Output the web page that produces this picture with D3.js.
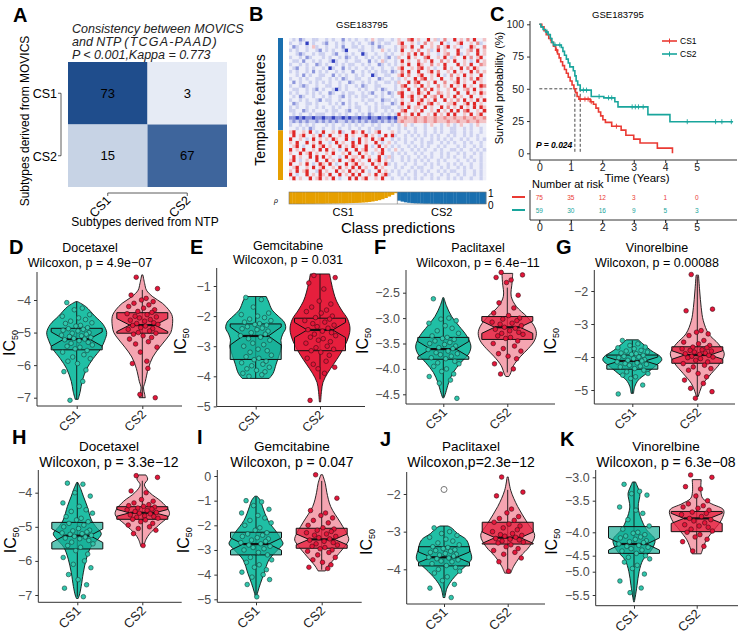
<!DOCTYPE html>
<html>
<head>
<meta charset="utf-8">
<script src="https://cdn.jsdelivr.net/npm/d3@7"></script>
<style>
  body { margin: 0; background: #fff; }
  svg { font-family: "Liberation Sans", Arial, sans-serif; }
</style>
</head>
<body>
<div id="chart"></div>
<script>
// ---------- A: confusion matrix ----------
const NTP_CLASSES = ["CS1", "CS2"];
const MOVICS_CLASSES = ["CS1", "CS2"];
const CONFUSION = [[73, 3], [15, 67]];

// ---------- B: NTP heatmap (coded cells) + correlation bars ----------
// B strong blue, m mid blue, b light blue, . white, r light red, p mid red, R strong red
const HEAT_ROWS = [
  ".b.mb..bb. .b.b..m.b. b..b.r.bb. .b.r..pR.r ..R.rb.p.. R.r.p.R..r",
  "b..b.B.b.. bm..b.b..b .b..bm.b.b b..rR..r.b .p.r..R.b. .rR..r.pb.",
  ".mb..b.rb. .b..b.m..b b.b..b.mb. ..b.pr.R.. R..r.p.rR. r.b..Rr..p",
  "b.b..b..bm .b.b..bB.. .bb..b..r. b.b.R..r.p ..rb.R.r.. .R..rp.R.r",
  "..bmb..b.b b..bm..b.b ..Bb..b..b .b..r.p.R. R.r..b.rp. .Rb.r..R.r",
  "b..b.mb... b.b..b.mb. b..b.b.b.b m.br..R.r. .pR..r.R.b r..R.p.rR.",
  ".bb.m..b.b ..bBb..b.. bb..m.b.rb ..b.R.r..p .r.R..p.r. R..r.b.R.r",
  "b..b.b..mb .b..b.b.bb ..b.b..mb. b.b.r.R..R r..p.r.R.. .R.r.R..pr",
  ".bm..b.b.. b.Bb..m.b. b..b.b..b. .b.rR..r.p R.r.b..R.r ..R.p.Rr..",
  "b.b..b.m.b .b..b.b..m ..b.b.b.bb .mb.p.R..R ..rR.p..r. R.r..R.p.r",
  "..b.m.b..b b..m.b.b.. b.b..Bb..b b..rR.p..r R..r.R.b.p .r.R.r..R.",
  "b..b.b..bb ..b.b.mb.. bb..b..mb. .b.b.r..R. pR.r..R..r .R.r.p.Rr.",
  ".m.b..b.b. b.b..b..mb ..b.b.b..b b.br..R.pR ..r.R..p.. rR.r..R.r.",
  "b..bmb..b. .bb..b.b.. b.mb..bb.. ..b.pR..r. R.r..p.r.R .r.R.r..Rp",
  ".bb..b.bm. b..bBb.b.. .b.b..b.mb ..b.r.R..R .p.R.r..r. R..rp.R.r.",
  "b.b..b.b.b ..mb..b.bb ..b.bm..b. mb.pR..r.R r.R..pr.r. .R..R.r.Rr",
  ".b.mb..b.. b.b..bm.b. b.bb..b.b. .b..R.rR.r .R.rp.R.r. R.r..R..r.",
  "b..b.b..bm .bb..b..b. ..b.bb..mb b.b.r..R.r R.r.R..R.r .p.R.r.R.R",
  ".mb..bb.b. ..b.b.m.b. b..b..b.b. .mb.R.r..R r.pR.r..rr R..rR.R.r.",
  "b.b..b..b. b..b.b..b. bb..b.b.bb b..br.R.rr .R.r..R.p. r.R.r.R.Rr",
  "bb..mb.b.. .b.bb..bm. .b..b.b..b .b..pR..r. R..r.R.r.R .R.pR..r.R",
  ".b.b..b.bb b..b.b.b.. b.b.mb..b. b.bR.r.R.R ..r.R.r.R. R..r.R.rR.",
  "mmBmBmmBmm BmmBmmBmBm mBmmBmmBmm BmBrrprrpr rprrprrprr prrprrprrp",
  "bmbmbmbbmb mbmbmbbmbm bmbmbmmbmb mbmrprrrpr rprrprrrpr rprrprrprr",
  "b..b.b.b.. .b.b..b.b. b.b..b.b.. .b.b.r.b.. .b.r..b.r. b.r..b.r..",
  "..b.b.mb.. b..b.b..b. .b..b.bb.. b..b.b..b. .b..b.b..b b..b.b..b.",
  "rR..r.R.b. R..r.Rb..R r.R.b.rR.. .r.b..b.b. .b..b.b..b b..b.b..b.",
  ".R.rR..r.R b.R..r.R.r ..rR.r.b.R .Rb..b.b.b .b.b.b..b. b..b.b.b..",
  "R..r.b.R.r .r.Rr..R.b .R.r.R.rR. .b.b.b..b. b..b.b.b.b ..b.b..b.b",
  "r.R..R.r.R ..b.R.r..R .R.r..R.b. r.b..b.b.. b.bb..b.b. b..b.b..b.",
  ".rR.b..R.r R.r..R.r.R r..R.b.R.r .b.b..b.b. b.b..b.b.. .b.b..b.b.",
  "R.r.R..r.R .R.r.b.R.. R.rR..r.R. b.r.b..b.b .b..b.b..b b.b..b.b.b",
  "r..R.rR.r. .r.R..r.R. .R.r.b.rR. .b.b.b..b. b..b..b.b. .b.b..b.b.",
  ".R.r..R.R. R.r..b.R.r r.R.r..R.b rb..b.b..b .b.b..b.b. b..b.b..b.",
  "rR.b.r..R. .R.r.R..rR .r..R.rR.r .b..b.b.b. b.b..b.b.. .b..b.b.b.",
  "R..r.R.b.R r.R.b..R.r R.r..R.r.R b.b..b..b. .b.b.b..b. b.b..b..b.",
  ".rR..r.R.r R..r.R.r.R .R.r..R.r. ..b.b..b.b b..b..b.b. .b.b.b..b.",
  "r.R.rR..bR .r..R.r.R. r.R.b..R.r .b.b..b.b. b.b..b.b.b b..b..b.b.",
  "R.b..R.r.R r.R..R.r.R .R..r.R.rR b..b.b..b. .b.b..b.b. .b.b..b.b.",
  ".R.r..R.rR .r.R.b..R. R.rR..r.R. .b..b.b.b. b..b.b..b. b.b..b..b."
];
const FEATURE_GROUPS = [["CS2", 26], ["CS1", 14]];   // rows per template group
const SAMPLE_GROUPS = [["CS1", 33], ["CS2", 27]];    // columns per predicted class
const RHO_CS1 = [1, 1, 1, 1, 1, 0.99, 0.99, 0.99, 0.98, 0.98, 0.98, 0.97, 0.97, 0.96, 0.96, 0.95, 0.95,
  0.94, 0.93, 0.92, 0.91, 0.9, 0.88, 0.86, 0.83, 0.79, 0.74, 0.68, 0.6, 0.5, 0.38, 0.24, 0.1];
const RHO_CS2 = [0.72, 0.8, 0.86, 0.9, 0.93, 0.95, 0.96, 0.97, 0.98, 0.98, 0.99, 0.99, 0.99, 1, 1, 1, 1,
  1, 1, 1, 1, 1, 1, 1, 1, 1, 1];

// ---------- C: Kaplan-Meier ----------
const KM_CS1 = [[0, 100], [0.08, 98], [0.15, 95], [0.22, 92], [0.3, 89], [0.38, 86], [0.45, 83], [0.52, 80],
  [0.58, 77], [0.63, 74], [0.68, 71], [0.74, 68], [0.8, 65], [0.86, 62], [0.92, 59], [0.98, 56], [1.04, 53],
  [1.1, 50], [1.15, 47], [1.2, 44], [1.26, 42], [1.62, 40], [1.72, 38], [1.8, 35], [1.88, 32], [1.95, 29],
  [2.02, 26], [2.1, 24], [2.3, 21], [2.6, 18], [2.75, 14], [3.0, 11], [3.2, 8], [3.75, 4], [4.23, 0]];
const KM_CS2 = [[0, 100], [0.05, 98], [0.12, 96], [0.2, 94], [0.28, 92], [0.35, 89], [0.4, 86], [0.45, 84],
  [0.7, 82], [0.75, 79], [0.8, 76], [0.86, 73], [0.92, 70], [0.97, 67], [1.08, 64], [1.13, 60], [1.17, 56],
  [1.22, 53], [1.3, 49], [1.65, 44], [2.05, 43], [2.4, 40], [2.5, 36], [3.45, 30], [4.15, 24.5], [6.15, 24.5]];
const CENSOR_CS1 = [0.35, 0.55, 1.3, 1.45, 1.55, 1.65, 2.45];
const CENSOR_CS2 = [0.25, 0.5, 0.65, 1.4, 1.5, 1.9, 2.2, 2.3, 2.95, 3.05, 3.15, 3.3, 4.7, 5.6, 5.8, 6.1];
const MEDIANS = [1.13, 1.3];
const RISK_TIMES = [0, 1, 2, 3, 4, 5];
const RISK_CS1 = [75, 35, 12, 3, 1, 0];
const RISK_CS2 = [59, 30, 16, 9, 5, 3];

// ---------- D-K: drug sensitivity violins ----------
const GROUPS = ["CS1", "CS2"];
const DRUGS = ["Docetaxel", "Gemcitabine", "Paclitaxel", "Vinorelbine", "Docetaxel", "Gemcitabine", "Paclitaxel", "Vinorelbine"];
const P_LABELS = ["Wilcoxon, p = 4.9e\u221207", "Wilcoxon, p = 0.031", "Wilcoxon, p = 6.4e\u221211", "Wilcoxon, p = 0.00088",
  "Wilcoxon, p = 3.3e\u221212", "Wilcoxon, p = 0.047", "Wilcoxon,p=2.3e\u221212", "Wilcoxon, p = 6.3e\u221208"];

// violin outlines: [value, relative width]
const D_VIO1 = [[-4.05, 0.03], [-4.2, 0.3], [-4.5, 0.61], [-4.75, 0.88], [-5.0, 1], [-5.25, 0.93], [-5.5, 0.8], [-5.8, 0.55], [-6.1, 0.34], [-6.5, 0.18], [-6.8, 0.12], [-7.05, 0.05]];
const D_VIO2 = [[-3.23, 0.02], [-3.5, 0.08], [-3.7, 0.14], [-3.9, 0.35], [-4.1, 0.67], [-4.3, 0.88], [-4.5, 1], [-4.8, 1], [-5.0, 0.95], [-5.2, 0.8], [-5.45, 0.58], [-5.75, 0.35], [-6.1, 0.2], [-6.5, 0.1], [-6.7, 0.04], [-6.9, 0.08], [-7.0, 0.1]];
const E_VIO1 = [[-1.35, 0.35], [-1.5, 0.42], [-1.8, 0.55], [-2.0, 0.75], [-2.2, 0.95], [-2.4, 1], [-2.6, 0.9], [-2.8, 0.84], [-3.0, 0.86], [-3.3, 0.78], [-3.6, 0.68], [-3.9, 0.58], [-4.07, 0.45]];
const E_VIO2 = [[-0.6, 0.32], [-0.9, 0.38], [-1.2, 0.45], [-1.5, 0.55], [-1.8, 0.72], [-2.1, 0.92], [-2.4, 1], [-2.7, 0.95], [-3.0, 0.82], [-3.3, 0.65], [-3.6, 0.45], [-3.9, 0.25], [-4.2, 0.1], [-4.5, 0.05], [-4.85, 0.02]];
const F_VIO1 = [[-2.6, 0.02], [-2.75, 0.1], [-2.97, 0.28], [-3.16, 0.53], [-3.35, 0.78], [-3.55, 0.92], [-3.7, 0.85], [-3.88, 0.58], [-4.07, 0.33], [-4.27, 0.18], [-4.47, 0.08], [-4.57, 0.02]];
const F_VIO2 = [[-2.12, 0.18], [-2.3, 0.16], [-2.57, 0.13], [-2.77, 0.3], [-2.97, 0.65], [-3.16, 0.9], [-3.3, 0.97], [-3.45, 0.9], [-3.6, 0.7], [-3.75, 0.45], [-3.94, 0.2], [-4.1, 0.1], [-4.15, 0.05]];
const G_VIO1 = [[-3.48, 0.2], [-3.6, 0.35], [-3.8, 0.62], [-4.0, 0.95], [-4.1, 0.98], [-4.25, 0.8], [-4.5, 0.47], [-4.7, 0.2], [-4.9, 0.08], [-5.1, 0.04]];
const G_VIO2 = [[-1.52, 0.04], [-2.0, 0.08], [-2.5, 0.13], [-2.9, 0.2], [-3.3, 0.38], [-3.6, 0.7], [-3.9, 0.9], [-4.2, 0.75], [-4.5, 0.47], [-4.8, 0.2], [-5.05, 0.08], [-5.2, 0.03]];
const H_VIO1 = [[-3.7, 0.02], [-3.9, 0.12], [-4.1, 0.2], [-4.4, 0.33], [-4.8, 0.47], [-5.0, 0.62], [-5.2, 0.8], [-5.35, 0.7], [-5.6, 0.45], [-5.95, 0.3], [-6.35, 0.2], [-6.75, 0.13], [-7.0, 0.07], [-7.1, 0.03]];
const H_VIO2 = [[-3.48, 0.12], [-3.6, 0.18], [-3.77, 0.07], [-4.0, 0.25], [-4.25, 0.62], [-4.5, 0.87], [-4.65, 0.9], [-4.95, 0.55], [-5.2, 0.25], [-5.38, 0.12], [-5.57, 0.05]];
const I_VIO1 = [[-0.82, 0.04], [-1.0, 0.15], [-1.25, 0.22], [-1.8, 0.4], [-2.3, 0.7], [-2.6, 0.85], [-2.75, 0.9], [-3.0, 0.72], [-3.4, 0.43], [-3.95, 0.27], [-4.35, 0.15], [-4.7, 0.06], [-4.9, 0.02]];
const I_VIO2 = [[0.05, 0.03], [-0.3, 0.12], [-0.66, 0.17], [-1.24, 0.3], [-1.9, 0.63], [-2.45, 0.88], [-2.6, 0.9], [-2.85, 0.77], [-3.25, 0.5], [-3.65, 0.22], [-3.85, 0.12]];
const J_VIO1 = [[-2.85, 0.13], [-2.9, 0.25], [-3.05, 0.45], [-3.22, 0.75], [-3.5, 0.87], [-3.72, 0.92], [-3.85, 0.8], [-4.0, 0.6], [-4.27, 0.28], [-4.5, 0.1], [-4.75, 0.03]];
const J_VIO2 = [[-1.55, 0.02], [-1.9, 0.1], [-2.33, 0.33], [-2.77, 0.66], [-3.1, 0.9], [-3.4, 0.72], [-3.66, 0.42], [-3.92, 0.2], [-4.1, 0.1]];
const K_VIO1 = [[-3.1, 0.05], [-3.25, 0.15], [-3.35, 0.2], [-3.6, 0.14], [-3.8, 0.25], [-3.96, 0.42], [-4.16, 0.7], [-4.38, 0.58], [-4.63, 0.3], [-5.0, 0.17], [-5.3, 0.1], [-5.55, 0.04], [-5.65, 0.01]];
const K_VIO2 = [[-3.05, 0.15], [-3.3, 0.14], [-3.45, 0.2], [-3.55, 0.5], [-3.65, 0.9], [-3.8, 0.83], [-3.96, 0.58], [-4.16, 0.33], [-4.38, 0.19], [-4.46, 0.15]];

// boxes: [lower whisker, q1, median, q3, upper whisker, notch half-size]
const D_BOX1 = [-7.05, -5.53, -5.2, -4.87, -4.05, 0.22];
const D_BOX2 = [-7.0, -5.02, -4.77, -4.39, -3.69, 0.2];
const E_BOX1 = [-4.07, -3.44, -2.66, -2.26, -1.35, 0.3];
const E_BOX2 = [-4.1, -3.15, -2.46, -2.07, -0.6, 0.25];
const F_BOX1 = [-4.55, -3.81, -3.61, -3.38, -2.62, 0.15];
const F_BOX2 = [-4.07, -3.42, -3.18, -2.97, -2.4, 0.12];
const G_BOX1 = [-5.1, -4.37, -4.12, -3.94, -3.5, 0.12];
const G_BOX2 = [-5.2, -4.19, -3.94, -3.69, -1.55, 0.13];
const H_BOX1 = [-7.05, -5.65, -5.26, -4.87, -3.7, 0.2];
const H_BOX2 = [-5.5, -4.78, -4.59, -4.41, -3.65, 0.1];
const I_BOX1 = [-4.85, -3.2, -2.76, -2.28, -0.85, 0.25];
const I_BOX2 = [-3.8, -2.93, -2.57, -2.12, -0.2, 0.22];
const J_BOX1 = [-4.7, -3.91, -3.68, -3.4, -2.85, 0.14];
const J_BOX2 = [-4.07, -3.33, -3.16, -2.75, -1.89, 0.15];
const K_BOX1 = [-5.6, -4.45, -4.25, -3.91, -3.1, 0.13];
const K_BOX2 = [-4.45, -3.99, -3.78, -3.67, -3.35, 0.08];
const J_OUTLIER1 = [-1.88];

// sample points (IC50)
const D_CS1 = [-4.08, -4.25, -4.3, -4.45, -4.5, -4.55, -4.6, -4.65, -4.7, -4.72, -4.78, -4.8, -4.85, -4.88, -4.9, -4.93, -4.95, -5.0, -5.02, -5.05, -5.08, -5.1, -5.12, -5.15, -5.18, -5.2, -5.22, -5.25, -5.3, -5.33, -5.38, -5.42, -5.45, -5.5, -5.55, -5.6, -5.68, -5.75, -5.8, -5.88, -5.95, -6.15, -6.2, -6.5, -7.08];
const D_CS2 = [-3.3, -3.65, -3.85, -3.95, -4.0, -4.05, -4.1, -4.15, -4.2, -4.25, -4.3, -4.35, -4.38, -4.42, -4.45, -4.5, -4.52, -4.55, -4.6, -4.62, -4.65, -4.7, -4.72, -4.75, -4.78, -4.8, -4.85, -4.88, -4.9, -4.95, -5.0, -5.02, -5.05, -5.1, -5.15, -5.2, -5.28, -5.35, -5.45, -5.6, -5.88, -5.95, -6.1, -6.9, -7.0];
const E_CS1 = [-1.38, -1.45, -1.7, -1.9, -1.95, -2.0, -2.05, -2.1, -2.15, -2.2, -2.25, -2.28, -2.3, -2.35, -2.4, -2.42, -2.45, -2.5, -2.55, -2.6, -2.65, -2.7, -2.75, -2.8, -2.9, -2.95, -3.0, -3.1, -3.15, -3.2, -3.3, -3.35, -3.4, -3.45, -3.5, -3.55, -3.6, -3.65, -3.7, -3.75, -3.8, -3.85, -3.9, -3.95, -4.0];
const E_CS2 = [-0.65, -0.72, -0.9, -1.1, -1.5, -1.6, -1.7, -1.8, -1.85, -1.9, -2.0, -2.05, -2.1, -2.15, -2.2, -2.25, -2.3, -2.35, -2.4, -2.45, -2.5, -2.55, -2.6, -2.65, -2.7, -2.75, -2.8, -2.85, -2.9, -3.0, -3.05, -3.1, -3.15, -3.2, -3.3, -3.4, -3.5, -3.6, -3.7, -3.75, -3.9, -4.8];
const F_CS1 = [-2.62, -3.0, -3.02, -3.05, -3.1, -3.15, -3.2, -3.25, -3.3, -3.35, -3.38, -3.4, -3.42, -3.45, -3.48, -3.5, -3.52, -3.55, -3.58, -3.6, -3.62, -3.65, -3.68, -3.7, -3.72, -3.75, -3.78, -3.8, -3.85, -3.88, -3.9, -3.95, -4.0, -4.05, -4.1, -4.15, -4.22, -4.28, -4.58];
const F_CS2 = [-2.1, -2.15, -2.2, -2.25, -2.3, -2.55, -2.7, -2.8, -2.9, -2.95, -3.0, -3.02, -3.05, -3.08, -3.1, -3.12, -3.15, -3.18, -3.2, -3.22, -3.25, -3.28, -3.3, -3.32, -3.35, -3.38, -3.4, -3.45, -3.5, -3.55, -3.6, -3.65, -3.7, -3.75, -3.8, -3.9, -4.0, -4.1];
const G_CS1 = [-3.5, -3.6, -3.65, -3.7, -3.72, -3.75, -3.8, -3.82, -3.85, -3.88, -3.9, -3.92, -3.95, -3.98, -4.0, -4.02, -4.05, -4.08, -4.1, -4.12, -4.15, -4.18, -4.2, -4.22, -4.25, -4.28, -4.3, -4.35, -4.4, -4.45, -4.5, -4.55, -4.6, -4.65, -4.85, -5.12];
const G_CS2 = [-1.5, -2.55, -2.6, -3.2, -3.25, -3.3, -3.35, -3.5, -3.55, -3.6, -3.65, -3.7, -3.72, -3.75, -3.78, -3.8, -3.82, -3.85, -3.88, -3.9, -3.92, -3.95, -3.98, -4.0, -4.02, -4.05, -4.1, -4.15, -4.2, -4.25, -4.3, -4.35, -4.4, -4.5, -4.6, -4.7, -4.8, -4.95, -5.05, -5.25];
const H_CS1 = [-3.72, -3.75, -4.0, -4.1, -4.3, -4.4, -4.5, -4.55, -4.6, -4.7, -4.75, -4.8, -4.85, -4.9, -4.95, -5.0, -5.05, -5.1, -5.12, -5.15, -5.18, -5.2, -5.22, -5.25, -5.28, -5.3, -5.33, -5.35, -5.4, -5.45, -5.5, -5.55, -5.6, -5.7, -5.8, -5.9, -6.0, -6.1, -6.2, -6.4, -6.55, -6.7, -6.8, -7.05];
const H_CS2 = [-3.5, -3.55, -3.95, -4.0, -4.2, -4.25, -4.3, -4.35, -4.38, -4.4, -4.42, -4.45, -4.48, -4.5, -4.52, -4.55, -4.58, -4.6, -4.62, -4.65, -4.68, -4.7, -4.72, -4.75, -4.78, -4.8, -4.85, -4.9, -4.95, -5.0, -5.05, -5.1, -5.2, -5.55];
const I_CS1 = [-1.0, -1.05, -1.2, -1.35, -1.5, -1.6, -1.7, -1.8, -1.9, -2.0, -2.1, -2.2, -2.3, -2.35, -2.4, -2.45, -2.5, -2.55, -2.6, -2.65, -2.7, -2.75, -2.8, -2.85, -2.9, -2.95, -3.0, -3.1, -3.2, -3.3, -3.4, -3.5, -3.6, -3.7, -3.8, -3.9, -4.0, -4.1, -4.2, -4.4, -4.9];
const I_CS2 = [0.05, -0.9, -1.4, -1.5, -1.6, -1.7, -1.8, -1.9, -2.0, -2.1, -2.15, -2.2, -2.25, -2.3, -2.35, -2.4, -2.45, -2.5, -2.55, -2.6, -2.65, -2.7, -2.75, -2.8, -2.85, -2.9, -2.95, -3.0, -3.05, -3.1, -3.2, -3.3, -3.4, -3.5, -3.6, -3.7, -3.75];
const J_CS1 = [-2.9, -3.0, -3.05, -3.1, -3.15, -3.2, -3.25, -3.3, -3.35, -3.4, -3.42, -3.45, -3.48, -3.5, -3.52, -3.55, -3.58, -3.6, -3.62, -3.65, -3.68, -3.7, -3.72, -3.75, -3.78, -3.8, -3.85, -3.9, -3.95, -4.0, -4.05, -4.1, -4.2, -4.3, -4.4, -4.5, -4.75];
const J_CS2 = [-1.55, -1.95, -2.05, -2.4, -2.5, -2.6, -2.65, -2.7, -2.75, -2.8, -2.85, -2.9, -2.95, -3.0, -3.05, -3.08, -3.1, -3.12, -3.15, -3.18, -3.2, -3.22, -3.25, -3.28, -3.3, -3.35, -3.4, -3.45, -3.5, -3.55, -3.6, -3.7, -3.8, -4.05];
const K_CS1 = [-3.15, -3.3, -3.35, -3.38, -3.6, -3.65, -3.7, -3.8, -3.9, -3.95, -4.0, -4.02, -4.05, -4.08, -4.1, -4.12, -4.15, -4.18, -4.2, -4.22, -4.25, -4.28, -4.3, -4.32, -4.35, -4.38, -4.4, -4.45, -4.5, -4.55, -4.6, -4.7, -4.8, -4.9, -5.05, -5.2, -5.35, -5.45];
const K_CS2 = [-2.95, -3.0, -3.2, -3.25, -3.4, -3.5, -3.55, -3.58, -3.6, -3.62, -3.65, -3.68, -3.7, -3.72, -3.75, -3.78, -3.8, -3.82, -3.85, -3.88, -3.9, -3.92, -3.95, -3.98, -4.0, -4.05, -4.1, -4.15, -4.2, -4.3, -4.4];

// horizontal jitter (fraction of jitter width), reused cyclically
const JITTER = [-0.62, 0.35, -0.15, 0.81, -0.9, 0.12, 0.55, -0.38, 0.95, -0.7, 0.24, -0.05, 0.68, -0.52, 0.41, -0.85,
  0.08, 0.77, -0.28, 0.6, -0.95, 0.3, -0.45, 0.88, -0.18, 0.5, -0.75, 0.15, 0.72, -0.35, 0.98, -0.6, 0.2, -0.1,
  0.65, -0.88, 0.45, -0.25, 0.85, -0.55, 0.05, 0.58, -0.8, 0.38, -0.42, 0.92, -0.12, 0.28];

const TEAL = "#20bfa5", RED = "#e61f3d", KM_RED = "#ea3a33", KM_TEAL = "#19a59c";
const BLUE_BAR = "#1a6faf", ORANGE_BAR = "#e69f00";

const width = 742, height = 634;
const svg = d3.select("#chart").append("svg")
  .attr("width", width).attr("height", height)
  .attr("viewBox", [0, 0, width, height]);

// panel letters
const LETTERS = [["A", 13, 22], ["B", 249, 21], ["C", 490, 21], ["D", 9, 254], ["E", 190, 254], ["F", 374, 254],
  ["G", 556, 254], ["H", 12, 444], ["I", 197, 444], ["J", 380, 446], ["K", 560, 446]];
svg.selectAll(".letter").data(LETTERS).join("text")
  .attr("x", d => d[1]).attr("y", d => d[2])
  .attr("font-size", 20).attr("font-weight", "bold").text(d => d[0]);

// ================= Panel A =================
{
  const g = svg.append("g");
  const x = d3.scaleBand().domain(NTP_CLASSES).range([68, 227]);
  const y = d3.scaleBand().domain(MOVICS_CLASSES).range([62, 187]);
  const color = d3.scaleLinear().domain([0, 1]).range(["#eef2fa", "#174687"]);
  const cells = [];
  MOVICS_CLASSES.forEach((r, i) => NTP_CLASSES.forEach((c, j) => {
    cells.push({ r, c, n: CONFUSION[i][j], p: CONFUSION[i][j] / d3.sum(CONFUSION[i]) });
  }));
  g.selectAll("rect").data(cells).join("rect")
    .attr("x", d => x(d.c)).attr("y", d => y(d.r))
    .attr("width", x.bandwidth()).attr("height", y.bandwidth())
    .attr("fill", d => color(d.p));
  g.selectAll(".cnt").data(cells).join("text")
    .attr("x", d => x(d.c) + x.bandwidth() / 2).attr("y", d => y(d.r) + y.bandwidth() / 2 + 4.5)
    .attr("text-anchor", "middle").attr("font-size", 13).text(d => d.n);

  // title
  const t = g.append("text").attr("font-size", 12.5).attr("font-style", "italic").attr("fill", "#222");
  t.append("tspan").attr("x", 72).attr("y", 33).text("Consistency between MOVICS");
  const l2 = t.append("tspan").attr("x", 72).attr("y", 46).text("and NTP ");
  l2.append("tspan").attr("letter-spacing", 1.2).text("(TCGA-PAAD)");
  t.append("tspan").attr("x", 72).attr("y", 59).text("P < 0.001,Kappa = 0.773");

  // y bracket axis
  const yc = d => y(d) + y.bandwidth() / 2;
  g.append("path").attr("fill", "none").attr("stroke", "#333").attr("stroke-width", 0.8)
    .attr("d", `M58,${yc("CS1")}H61V${yc("CS2")}H58`);
  g.selectAll(".yl").data(MOVICS_CLASSES).join("text")
    .attr("x", 57).attr("y", d => yc(d) + 5).attr("text-anchor", "end")
    .attr("font-size", 12.5).text(d => d);
  g.append("text").attr("transform", "translate(29,121) rotate(-90)")
    .attr("text-anchor", "middle").attr("font-size", 12).text("Subtypes derived from MOVICS");

  // x bracket axis
  const xc = d => x(d) + x.bandwidth() / 2;
  g.append("path").attr("fill", "none").attr("stroke", "#333").attr("stroke-width", 0.8)
    .attr("d", `M${xc("CS1")},196V193H${xc("CS2")}V196`);
  g.selectAll(".xl").data(NTP_CLASSES).join("text")
    .attr("transform", d => `translate(${xc(d) + 4},${201}) rotate(-45)`)
    .attr("text-anchor", "end").attr("font-size", 12.5).text(d => d);
  g.append("text").attr("x", 145).attr("y", 226).attr("text-anchor", "middle")
    .attr("font-size", 12).text("Subtypes derived from NTP");
}

// ================= Panel B =================
{
  const g = svg.append("g");
  const nCols = d3.sum(SAMPLE_GROUPS, d => d[1]);
  const nRows = d3.sum(FEATURE_GROUPS, d => d[1]);
  const x = d3.scaleBand().domain(d3.range(nCols)).range([289, 486]);
  const y = d3.scaleBand().domain(d3.range(nRows)).range([38, 180]);
  const heatColor = d3.scaleOrdinal()
    .domain(["B", "m", "b", ".", "r", "p", "R"])
    .range(["#3240c0", "#8e97dc", "#cdd1ef", "#eeeff9", "#f3c3c6", "#ec8a8c", "#e02828"]);
  const cells = [];
  HEAT_ROWS.forEach((row, i) => {
    const s = row.replace(/ /g, "");
    for (let j = 0; j < nCols; j++) cells.push({ i, j, v: s[j] || "." });
  });
  g.selectAll("rect.cell").data(cells).join("rect").attr("class", "cell")
    .attr("x", d => x(d.j)).attr("y", d => y(d.i))
    .attr("width", x.bandwidth() + 0.3).attr("height", y.bandwidth() + 0.3)
    .attr("fill", d => heatColor(d.v));

  // template feature bar
  let r0 = 0;
  FEATURE_GROUPS.forEach(([grp, n]) => {
    g.append("rect").attr("x", 278).attr("width", 5)
      .attr("y", y(r0)).attr("height", y.step() * n)
      .attr("fill", grp === "CS2" ? BLUE_BAR : ORANGE_BAR);
    r0 += n;
  });
  g.append("text").attr("transform", "translate(265,110) rotate(-90)")
    .attr("text-anchor", "middle").attr("font-size", 14).text("Template features");
  g.append("text").attr("x", 362).attr("y", 28).attr("text-anchor", "middle")
    .attr("font-size", 9.5).text("GSE183795");

  // correlation bars
  const rhoY = d3.scaleLinear().domain([0, 1]).range([0, 12]);
  const rho = RHO_CS1.map((v, j) => ({ j, v, c: ORANGE_BAR }))
    .concat(RHO_CS2.map((v, j) => ({ j: j + RHO_CS1.length, v, c: BLUE_BAR })));
  g.selectAll("rect.rho").data(rho).join("rect").attr("class", "rho")
    .attr("x", d => x(d.j)).attr("y", 192)
    .attr("width", x.bandwidth() + 0.3).attr("height", d => rhoY(d.v))
    .attr("fill", d => d.c);
  g.append("rect").attr("x", 289).attr("y", 192).attr("width", 197).attr("height", 12)
    .attr("fill", "none").attr("stroke", "#777").attr("stroke-width", 0.6);
  g.append("line").attr("x1", x(RHO_CS1.length)).attr("x2", x(RHO_CS1.length))
    .attr("y1", 192).attr("y2", 204).attr("stroke", "#777").attr("stroke-width", 0.6);
  g.append("text").attr("x", 488).attr("y", 197).attr("font-size", 10).text("1");
  g.append("text").attr("x", 488).attr("y", 209).attr("font-size", 10).text("0");
  g.append("text").attr("x", 274).attr("y", 203).attr("font-size", 7).attr("font-style", "italic").text("\u03c1");
  let c0 = 0;
  SAMPLE_GROUPS.forEach(([grp, n]) => {
    g.append("text").attr("x", x(c0) + x.step() * n / 2).attr("y", 216)
      .attr("text-anchor", "middle").attr("font-size", 11).text(grp);
    c0 += n;
  });
  g.append("text").attr("x", 398).attr("y", 233).attr("text-anchor", "middle")
    .attr("font-size", 15).text("Class predictions");
}

// ================= Panel C =================
{
  const g = svg.append("g");
  const x = d3.scaleLinear().domain([0, 5]).range([539.3, 696.7]);
  const y = d3.scaleLinear().domain([0, 100]).range([153.3, 24.3]);
  const axisColor = "#333";

  g.append("text").attr("x", 618).attr("y", 18).attr("text-anchor", "middle")
    .attr("font-size", 9.5).text("GSE183795");

  // axes
  const yAx = g.append("g").attr("transform", "translate(530,0)")
    .call(d3.axisLeft(y).tickValues([0, 25, 50, 75, 100]).tickSize(3).tickFormat(d3.format("d")));
  const xAx = g.append("g").attr("transform", "translate(0,160)")
    .call(d3.axisBottom(x).tickValues(RISK_TIMES).tickSize(3).tickPadding(1).tickFormat(d3.format("d")));
  [yAx, xAx].forEach(a => {
    a.select(".domain").remove();
    a.selectAll("text").attr("font-size", 10.5).attr("fill", "#222").attr("font-family", null);
    a.selectAll("line").attr("stroke", axisColor);
  });
  g.append("line").attr("x1", 530).attr("x2", 530).attr("y1", 21).attr("y2", 160).attr("stroke", axisColor);
  g.append("line").attr("x1", 530).attr("x2", 737).attr("y1", 160).attr("y2", 160).attr("stroke", axisColor);
  g.append("text").attr("transform", "translate(503,88) rotate(-90)").attr("text-anchor", "middle")
    .attr("font-size", 11).text("Survival probability (%)");
  g.append("text").attr("x", 637).attr("y", 182).attr("text-anchor", "middle")
    .attr("font-size", 11.5).text("Time (Years)");

  // median lines
  const dash = "3,2";
  g.append("line").attr("x1", x(0)).attr("x2", x(MEDIANS[1])).attr("y1", y(50)).attr("y2", y(50))
    .attr("stroke", "#333").attr("stroke-dasharray", dash).attr("stroke-width", 0.9);
  MEDIANS.forEach(m => g.append("line").attr("x1", x(m)).attr("x2", x(m)).attr("y1", y(50)).attr("y2", y(0))
    .attr("stroke", "#333").attr("stroke-dasharray", dash).attr("stroke-width", 0.9));

  const line = d3.line().x(d => x(d[0])).y(d => y(d[1])).curve(d3.curveStepAfter);
  const survAt = (km, t) => { let s = 100; km.forEach(d => { if (d[0] <= t) s = d[1]; }); return s; };
  [[KM_CS1, CENSOR_CS1, KM_RED], [KM_CS2, CENSOR_CS2, KM_TEAL]].forEach(([km, cens, col]) => {
    g.append("path").attr("d", line(km)).attr("fill", "none").attr("stroke", col).attr("stroke-width", 1.6);
    g.selectAll(null).data(cens).join("path")
      .attr("d", t => `M${x(t)},${y(survAt(km, t)) - 2.5}v5M${x(t) - 1.8},${y(survAt(km, t))}h3.6`)
      .attr("stroke", col).attr("stroke-width", 0.9);
  });

  g.append("text").attr("x", 536).attr("y", 148).attr("font-size", 8.5)
    .attr("font-weight", "bold").attr("font-style", "italic").text("P = 0.024");

  // legend
  [["CS1", KM_RED, 41], ["CS2", KM_TEAL, 54]].forEach(([lab, col, ly]) => {
    g.append("line").attr("x1", 662).attr("x2", 677).attr("y1", ly).attr("y2", ly)
      .attr("stroke", col).attr("stroke-width", 1.6);
    g.append("path").attr("d", `M669.5,${ly - 2.5}v5`).attr("stroke", col);
    g.append("text").attr("x", 680).attr("y", ly + 3).attr("font-size", 8.5).text(lab);
  });

  // risk table
  g.append("text").attr("x", 532).attr("y", 188).attr("font-size", 11).text("Number at risk");
  g.append("line").attr("x1", 530).attr("x2", 530).attr("y1", 190).attr("y2", 220).attr("stroke", axisColor);
  g.append("line").attr("x1", 530).attr("x2", 737).attr("y1", 220).attr("y2", 220).attr("stroke", axisColor);
  const rAx = g.append("g").attr("transform", "translate(0,220)")
    .call(d3.axisBottom(x).tickValues(RISK_TIMES).tickSize(3).tickPadding(1).tickFormat(d3.format("d")));
  rAx.select(".domain").remove();
  rAx.selectAll("text").attr("font-size", 10.5).attr("fill", "#222").attr("font-family", null);
  [[RISK_CS1, KM_RED, 199.5], [RISK_CS2, KM_TEAL, 212.5]].forEach(([vals, col, ry]) => {
    g.append("line").attr("x1", 512).attr("x2", 525).attr("y1", ry - 2.5).attr("y2", ry - 2.5)
      .attr("stroke", col).attr("stroke-width", 2);
    g.selectAll(null).data(vals).join("text")
      .attr("x", (d, i) => x(RISK_TIMES[i])).attr("y", ry)
      .attr("text-anchor", "middle").attr("font-size", 6.5).attr("fill", col).text(d => d);
  });
}

// ================= Panels D-K =================
const PANELS = [
  { cs1: D_CS1, cs2: D_CS2, v1: D_VIO1, v2: D_VIO2, b1: D_BOX1, b2: D_BOX2,
    left: 37, right: 182, top: 272, bottom: 406, dom: [-4, -7], rng: [300, 397.7], ticks: [-4, -5, -6, -7], fmt: "d",
    cx: [76.7, 142.3], tx: 90, ty: [252, 267], labX: 15, row: 1 },
  { cs1: E_CS1, cs2: E_CS2, v1: E_VIO1, v2: E_VIO2, b1: E_BOX1, b2: E_BOX2,
    left: 216.7, right: 365, top: 268, bottom: 406.5, dom: [-1, -5], rng: [286, 406.4], ticks: [-1, -2, -3, -4, -5], fmt: "d",
    cx: [255.7, 320], tx: 288, ty: [250, 264], labX: 186, row: 1, solid2: true },
  { cs1: F_CS1, cs2: F_CS2, v1: F_VIO1, v2: F_VIO2, b1: F_BOX1, b2: F_BOX2,
    left: 406, right: 555, top: 270, bottom: 404, dom: [-2.5, -4.5], rng: [292.7, 394.3], ticks: [-2.5, -3, -3.5, -4, -4.5], fmt: ".1f",
    cx: [443.3, 507.3], tx: 478, ty: [252, 267], labX: 368, row: 1 },
  { cs1: G_CS1, cs2: G_CS2, v1: G_VIO1, v2: G_VIO2, b1: G_BOX1, b2: G_BOX2,
    left: 594.3, right: 735, top: 270, bottom: 404, dom: [-2, -5], rng: [291, 390], ticks: [-2, -3, -4, -5], fmt: "d",
    cx: [632.3, 697.3], tx: 657, ty: [252, 267], labX: 556, row: 1 },
  { cs1: H_CS1, cs2: H_CS2, v1: H_VIO1, v2: H_VIO2, b1: H_BOX1, b2: H_BOX2,
    left: 38.3, right: 181.7, top: 470, bottom: 602.3, dom: [-4, -7], rng: [492.7, 595], ticks: [-4, -5, -6, -7], fmt: "d",
    cx: [77.3, 142.3], tx: 109, ty: [451, 467], labX: 16, row: 2 },
  { cs1: I_CS1, cs2: I_CS2, v1: I_VIO1, v2: I_VIO2, b1: I_BOX1, b2: I_BOX2,
    left: 217.3, right: 361.7, top: 470, bottom: 602.3, dom: [0, -5], rng: [476, 599.3], ticks: [0, -1, -2, -3, -4, -5], fmt: "d",
    cx: [256, 321.7], tx: 292, ty: [451, 467], labX: 189, row: 2 },
  { cs1: J_CS1, cs2: J_CS2, v1: J_VIO1, v2: J_VIO2, b1: J_BOX1, b2: J_BOX2, out1: J_OUTLIER1,
    left: 406.7, right: 545, top: 472, bottom: 604, dom: [-2, -4], rng: [494, 569.3], ticks: [-2, -3, -4], fmt: "d",
    cx: [444, 507.7], tx: 471, ty: [451, 467], labX: 372, row: 2 },
  { cs1: K_CS1, cs2: K_CS2, v1: K_VIO1, v2: K_VIO2, b1: K_BOX1, b2: K_BOX2,
    left: 595.7, right: 738, top: 470, bottom: 605.7,
    dom: [-3, -3.5, -4, -4.5, -5, -5.5], rng: [477.3, 500.7, 532.3, 555.7, 571.7, 595],
    ticks: [-3, -3.5, -4, -4.5, -5, -5.5], fmt: ".1f",
    cx: [634, 696.7], tx: 666, ty: [451, 467], labX: 557, row: 2 }
];

PANELS.forEach((p, k) => {
  const g = svg.append("g");
  const y = d3.scaleLinear().domain(p.dom).range(p.rng);
  const x = d3.scalePoint().domain(GROUPS).range(p.cx);
  const vw = d3.scaleLinear().domain([0, 1]).range([0, 30]);
  const boxW = 25.5, jw = 16;
  const big = p.row === 2;

  // titles
  g.append("text").attr("x", p.tx).attr("y", p.ty[0]).attr("text-anchor", "middle")
    .attr("font-size", big ? 13.5 : 12.5).text(DRUGS[k]);
  g.append("text").attr("x", p.tx).attr("y", p.ty[1]).attr("text-anchor", "middle")
    .attr("font-size", big ? 14 : 12.5).text(P_LABELS[k]);

  // axes
  const yAx = g.append("g").attr("transform", `translate(${p.left},0)`)
    .call(d3.axisLeft(y).tickValues(p.ticks).tickSize(3).tickFormat(d3.format(p.fmt)));
  const xAx = g.append("g").attr("transform", `translate(0,${p.bottom})`)
    .call(d3.axisBottom(x).tickSize(3));
  [yAx, xAx].forEach(a => {
    a.select(".domain").remove();
    a.selectAll("line").attr("stroke", "#333");
  });
  yAx.selectAll("text").attr("font-size", 12.5).attr("fill", "#4d4d4d").attr("font-family", null);
  xAx.selectAll("text").attr("font-size", big ? 13 : 12.5).attr("fill", "#222").attr("font-family", null)
    .attr("text-anchor", "end").attr("dy", null).attr("y", 0)
    .attr("transform", "translate(4,9) rotate(-45)");
  g.append("line").attr("x1", p.left).attr("x2", p.left).attr("y1", p.top).attr("y2", p.bottom).attr("stroke", "#333");
  g.append("line").attr("x1", p.left).attr("x2", p.right).attr("y1", p.bottom).attr("y2", p.bottom).attr("stroke", "#333");

  // IC50 label
  const lab = g.append("text")
    .attr("transform", `translate(${p.labX},${(p.top + p.bottom) / 2 + 4}) rotate(-90)`)
    .attr("text-anchor", "middle").attr("font-size", 16);
  lab.append("tspan").text("IC");
  lab.append("tspan").attr("font-size", 9).attr("dy", 3).text("50");

  const groups = [
    { grp: "CS1", pts: p.cs1, vio: p.v1, box: p.b1, vFill: TEAL, vOp: 1, bFill: "#17ad95", bOp: 0.7, ptFill: "#2fc6ab", ptStroke: "#17403a", out: p.out1 },
    { grp: "CS2", pts: p.cs2, vio: p.v2, box: p.b2, vFill: RED, vOp: p.solid2 ? 1 : 0.4, bFill: RED, bOp: 0.78, ptFill: "#e3163a", ptStroke: "#3d0d14" }
  ];

  groups.forEach(G => {
    const cx = x(G.grp);
    const area = d3.area()
      .y(d => y(d[0]))
      .x0(d => cx - vw(d[1]))
      .x1(d => cx + vw(d[1]))
      .curve(d3.curveCatmullRom);
    g.append("path").attr("d", area(G.vio))
      .attr("fill", G.vFill).attr("fill-opacity", G.vOp)
      .attr("stroke", "#111").attr("stroke-width", 0.9);

    const [lo, q1, med, q3, hi, n] = G.box;
    g.append("line").attr("x1", cx).attr("x2", cx).attr("y1", y(hi)).attr("y2", y(lo))
      .attr("stroke", "#111").attr("stroke-width", 0.9);
    const hw = boxW, nw = boxW * 0.5;
    const boxPath = d3.path();
    boxPath.moveTo(cx - hw, y(q3));
    boxPath.lineTo(cx - hw, y(med + n));
    boxPath.lineTo(cx - nw, y(med));
    boxPath.lineTo(cx - hw, y(med - n));
    boxPath.lineTo(cx - hw, y(q1));
    boxPath.lineTo(cx + hw, y(q1));
    boxPath.lineTo(cx + hw, y(med - n));
    boxPath.lineTo(cx + nw, y(med));
    boxPath.lineTo(cx + hw, y(med + n));
    boxPath.lineTo(cx + hw, y(q3));
    boxPath.closePath();
    g.append("path").attr("d", boxPath.toString())
      .attr("fill", G.bFill).attr("fill-opacity", G.bOp)
      .attr("stroke", "#111").attr("stroke-width", 1);
    g.append("line").attr("x1", cx - nw).attr("x2", cx + nw).attr("y1", y(med)).attr("y2", y(med))
      .attr("stroke", "#111").attr("stroke-width", 2.2);

    if (G.out) {
      g.selectAll(null).data(G.out).join("circle")
        .attr("cx", cx).attr("cy", d => y(d)).attr("r", 3)
        .attr("fill", "none").attr("stroke", "#777").attr("stroke-width", 1);
    }

    g.selectAll(null).data(G.pts).join("circle")
      .attr("cx", (d, i) => cx + JITTER[(i + (G.grp === "CS2" ? 7 : 0)) % JITTER.length] * jw)
      .attr("cy", d => y(d)).attr("r", 2.3)
      .attr("fill", G.ptFill).attr("stroke", G.ptStroke).attr("stroke-width", 0.6);
  });
});
</script>
</body>
</html>
